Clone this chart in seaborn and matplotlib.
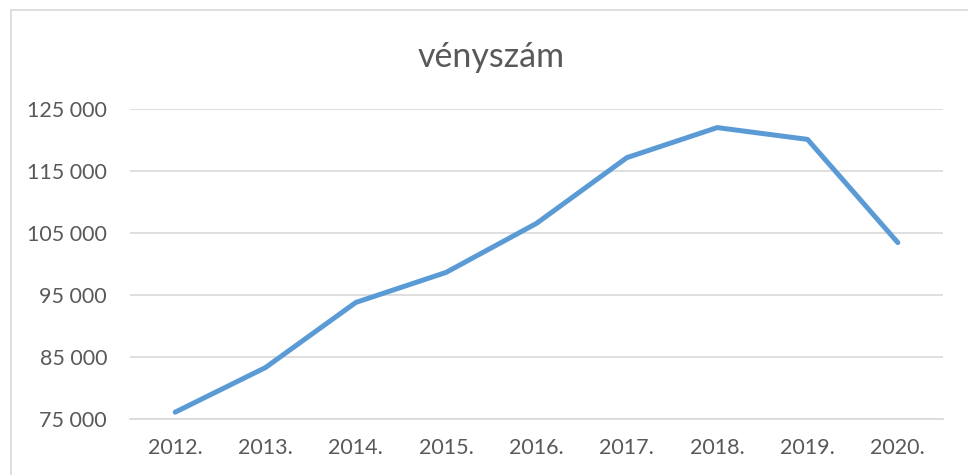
import matplotlib
matplotlib.use("Agg")
import matplotlib.pyplot as plt
import matplotlib.ticker as mticker
from matplotlib.patches import Rectangle
import pandas as pd
import seaborn as sns

years = ["2012.", "2013.", "2014.", "2015.", "2016.", "2017.", "2018.", "2019.", "2020."]
prescriptions = [76100, 83300, 93800, 98650, 106550, 117150, 122000, 120100, 103450]
y_ticks = [75000, 85000, 95000, 105000, 115000, 125000]
title = "vényszám"


def main():
    sns.set_style("white")
    plt.rcParams["font.family"] = ["Lato", "DejaVu Sans"]
    text_color = "#595959"
    grid_color = "#d9d9d9"

    df = pd.DataFrame({"year": years, "count": prescriptions})

    fig = plt.figure(figsize=(9.68, 4.75), dpi=100)
    ax = fig.add_axes([130 / 968, 1 - 419 / 475, 813 / 968, 310 / 475])

    # chart border (Excel-style frame, cut off at right/bottom)
    fig.patches.append(Rectangle((11 / 968, -0.1), 1.2, 1 - 10 / 475 + 0.1,
                                 transform=fig.transFigure, fill=False,
                                 edgecolor="#d9d9d9", linewidth=1.2))

    sns.lineplot(data=df, x="year", y="count", ax=ax, color="#5b9bd5",
                 linewidth=3.6, solid_capstyle="round", sort=False)

    ax.set_xlim(-0.5, len(years) - 0.5)
    ax.set_ylim(y_ticks[0], y_ticks[-1])
    ax.set_yticks(y_ticks)
    ax.yaxis.set_major_formatter(
        mticker.FuncFormatter(lambda v, p: f"{int(v):,}".replace(",", " ")))
    ax.yaxis.grid(True, color=grid_color, linewidth=1.2)
    ax.set_axisbelow(True)
    for s in ["left", "right", "top"]:
        ax.spines[s].set_visible(False)
    ax.spines["bottom"].set_color(grid_color)
    ax.spines["bottom"].set_linewidth(1.2)

    ax.tick_params(axis="both", length=0, labelsize=15.5, colors=text_color)
    ax.tick_params(axis="y", pad=16.5)
    ax.tick_params(axis="x", pad=14)
    ax.set_xlabel("")
    ax.set_ylabel("")

    fig.text(491 / 968, 1 - 57 / 475, title, ha="center", va="center",
             fontsize=24.5, color=text_color)

    fig.savefig("out.png", dpi=100)


if __name__ == "__main__":
    main()
